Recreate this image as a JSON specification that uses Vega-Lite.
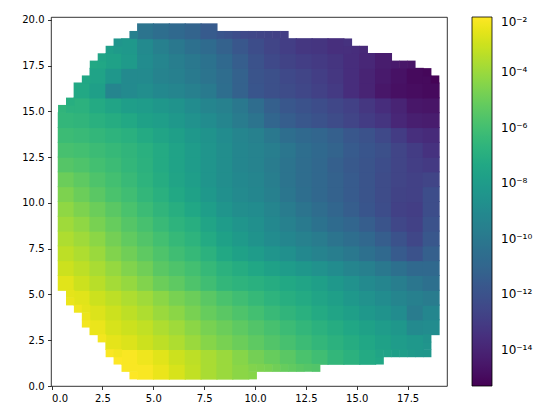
{"$schema":"https://vega.github.io/schema/vega-lite/v6.json","width":396,"height":369,"autosize":"none","padding":{"left":51,"top":17,"right":102,"bottom":34},"background":"white",
"config":{"font":"DejaVu Sans","view":{"stroke":"black","strokeWidth":0.8},"axis":{"grid":false,"domain":false,"tickColor":"black","tickSize":3.5,"tickWidth":0.8,"labelColor":"black","labelFontSize":10,"labelPadding":3.5,"title":null}},
"datasets":{"coarse":[
{"x":4.62,"y":0.78,"v":8e-3},{"x":5.4,"y":0.78,"v":4e-3},{"x":6.18,"y":0.78,"v":1.6e-3},{"x":6.96,"y":0.78,"v":6e-4},{"x":7.74,"y":0.78,"v":2e-4},{"x":8.52,"y":0.78,"v":1e-4},{"x":9.3,"y":0.78,"v":5e-5},
{"x":3.84,"y":1.59,"v":8e-3},{"x":4.62,"y":1.59,"v":5e-3},{"x":5.4,"y":1.59,"v":2.5e-3},{"x":6.18,"y":1.59,"v":1e-3},{"x":6.96,"y":1.59,"v":5e-4},{"x":7.74,"y":1.59,"v":2e-4},{"x":8.52,"y":1.59,"v":1e-4},{"x":9.3,"y":1.59,"v":4e-5},{"x":10.08,"y":1.59,"v":1.6e-5},{"x":10.86,"y":1.59,"v":8e-6},{"x":11.64,"y":1.59,"v":4e-6},{"x":12.42,"y":1.59,"v":1.6e-6},{"x":13.2,"y":1.59,"v":8e-7},{"x":13.98,"y":1.59,"v":3e-7},{"x":14.76,"y":1.59,"v":1.6e-7},{"x":15.54,"y":1.59,"v":6e-8},
{"x":3.06,"y":2.4,"v":3e-3},{"x":3.84,"y":2.4,"v":2e-3},{"x":4.62,"y":2.4,"v":1e-3},{"x":5.4,"y":2.4,"v":5e-4},{"x":6.18,"y":2.4,"v":2.5e-4},{"x":6.96,"y":2.4,"v":1e-4},{"x":7.74,"y":2.4,"v":4e-5},{"x":8.52,"y":2.4,"v":2e-5},{"x":9.3,"y":2.4,"v":1e-5},{"x":10.08,"y":2.4,"v":5e-6},{"x":10.86,"y":2.4,"v":2.5e-6},{"x":11.64,"y":2.4,"v":1.3e-6},{"x":12.42,"y":2.4,"v":6e-7},{"x":13.2,"y":2.4,"v":3e-7},{"x":13.98,"y":2.4,"v":1.6e-7},{"x":14.76,"y":2.4,"v":8e-8},{"x":15.54,"y":2.4,"v":4e-8},{"x":16.32,"y":2.4,"v":2e-8},{"x":17.1,"y":2.4,"v":1e-8},{"x":17.88,"y":2.4,"v":6e-9},
{"x":2.28,"y":3.21,"v":4e-3},{"x":3.06,"y":3.21,"v":1.6e-3},{"x":3.84,"y":3.21,"v":1e-3},{"x":4.62,"y":3.21,"v":6e-4},{"x":5.4,"y":3.21,"v":2.5e-4},{"x":6.18,"y":3.21,"v":1.3e-4},{"x":6.96,"y":3.21,"v":5e-5},{"x":7.74,"y":3.21,"v":2e-5},{"x":8.52,"y":3.21,"v":1e-5},{"x":9.3,"y":3.21,"v":5e-6},{"x":10.08,"y":3.21,"v":2.5e-6},{"x":10.86,"y":3.21,"v":1.3e-6},{"x":11.64,"y":3.21,"v":6e-7},{"x":12.42,"y":3.21,"v":3e-7},{"x":13.2,"y":3.21,"v":1.6e-7},{"x":13.98,"y":3.21,"v":8e-8},{"x":14.76,"y":3.21,"v":4e-8},{"x":15.54,"y":3.21,"v":2e-8},{"x":16.32,"y":3.21,"v":1e-8},{"x":17.1,"y":3.21,"v":5e-9},{"x":17.88,"y":3.21,"v":1e-9},{"x":18.66,"y":3.21,"v":1.3e-9},
{"x":2.28,"y":4.02,"v":2e-3},{"x":3.06,"y":4.02,"v":1e-3},{"x":3.84,"y":4.02,"v":5e-4},{"x":4.62,"y":4.02,"v":2.5e-4},{"x":5.4,"y":4.02,"v":1e-4},{"x":6.18,"y":4.02,"v":5e-5},{"x":6.96,"y":4.02,"v":2e-5},{"x":7.74,"y":4.02,"v":8e-6},{"x":8.52,"y":4.02,"v":4e-6},{"x":9.3,"y":4.02,"v":2e-6},{"x":10.08,"y":4.02,"v":1e-6},{"x":10.86,"y":4.02,"v":5e-7},{"x":11.64,"y":4.02,"v":2.5e-7},{"x":12.42,"y":4.02,"v":1.3e-7},{"x":13.2,"y":4.02,"v":6e-8},{"x":13.98,"y":4.02,"v":3e-8},{"x":14.76,"y":4.02,"v":1.6e-8},{"x":15.54,"y":4.02,"v":6e-9},{"x":16.32,"y":4.02,"v":3e-9},{"x":17.1,"y":4.02,"v":1.3e-9},{"x":17.88,"y":4.02,"v":1.6e-10},{"x":18.66,"y":4.02,"v":6e-10},
{"x":1.5,"y":4.82,"v":2.5e-3},{"x":2.28,"y":4.82,"v":1e-3},{"x":3.06,"y":4.82,"v":5e-4},{"x":3.84,"y":4.82,"v":2.5e-4},{"x":4.62,"y":4.82,"v":1.3e-4},{"x":5.4,"y":4.82,"v":5e-5},{"x":6.18,"y":4.82,"v":2e-5},{"x":6.96,"y":4.82,"v":1e-5},{"x":7.74,"y":4.82,"v":4e-6},{"x":8.52,"y":4.82,"v":1.6e-6},{"x":9.3,"y":4.82,"v":8e-7},{"x":10.08,"y":4.82,"v":4e-7},{"x":10.86,"y":4.82,"v":2e-7},{"x":11.64,"y":4.82,"v":1e-7},{"x":12.42,"y":4.82,"v":6e-8},{"x":13.2,"y":4.82,"v":3e-8},{"x":13.98,"y":4.82,"v":1.6e-8},{"x":14.76,"y":4.82,"v":6e-9},{"x":15.54,"y":4.82,"v":2.5e-9},{"x":16.32,"y":4.82,"v":1.3e-9},{"x":17.1,"y":4.82,"v":5e-10},{"x":17.88,"y":4.82,"v":2.5e-10},{"x":18.66,"y":4.82,"v":1.6e-10},
{"x":0.72,"y":5.63,"v":2.5e-3},{"x":1.5,"y":5.63,"v":1e-3},{"x":2.28,"y":5.63,"v":4e-4},{"x":3.06,"y":5.63,"v":1.6e-4},{"x":3.84,"y":5.63,"v":8e-5},{"x":4.62,"y":5.63,"v":3e-5},{"x":5.4,"y":5.63,"v":1e-5},{"x":6.18,"y":5.63,"v":5e-6},{"x":6.96,"y":5.63,"v":2e-6},{"x":7.74,"y":5.63,"v":8e-7},{"x":8.52,"y":5.63,"v":3e-7},{"x":9.3,"y":5.63,"v":2e-7},{"x":10.08,"y":5.63,"v":1.3e-7},{"x":10.86,"y":5.63,"v":8e-8},{"x":11.64,"y":5.63,"v":5e-8},{"x":12.42,"y":5.63,"v":3e-8},{"x":13.2,"y":5.63,"v":1.6e-8},{"x":13.98,"y":5.63,"v":6e-9},{"x":14.76,"y":5.63,"v":2.5e-9},{"x":15.54,"y":5.63,"v":1e-9},{"x":16.32,"y":5.63,"v":5e-10},{"x":17.1,"y":5.63,"v":2e-10},{"x":17.88,"y":5.63,"v":8e-11},{"x":18.66,"y":5.63,"v":4e-11},
{"x":0.72,"y":6.44,"v":1e-3},{"x":1.5,"y":6.44,"v":5e-4},{"x":2.28,"y":6.44,"v":2e-4},{"x":3.06,"y":6.44,"v":8e-5},{"x":3.84,"y":6.44,"v":3e-5},{"x":4.62,"y":6.44,"v":1.3e-5},{"x":5.4,"y":6.44,"v":4e-6},{"x":6.18,"y":6.44,"v":2e-6},{"x":6.96,"y":6.44,"v":1e-6},{"x":7.74,"y":6.44,"v":4e-7},{"x":8.52,"y":6.44,"v":1.6e-7},{"x":9.3,"y":6.44,"v":8e-8},{"x":10.08,"y":6.44,"v":4e-8},{"x":10.86,"y":6.44,"v":2e-8},{"x":11.64,"y":6.44,"v":1e-8},{"x":12.42,"y":6.44,"v":5e-9},{"x":13.2,"y":6.44,"v":2.5e-9},{"x":13.98,"y":6.44,"v":1.3e-9},{"x":14.76,"y":6.44,"v":5e-10},{"x":15.54,"y":6.44,"v":2.5e-10},{"x":16.32,"y":6.44,"v":1e-10},{"x":17.1,"y":6.44,"v":4e-11},{"x":17.88,"y":6.44,"v":1.6e-11},{"x":18.66,"y":6.44,"v":1.6e-11},
{"x":0.72,"y":7.25,"v":5e-4},{"x":1.5,"y":7.25,"v":2.5e-4},{"x":2.28,"y":7.25,"v":1e-4},{"x":3.06,"y":7.25,"v":3e-5},{"x":3.84,"y":7.25,"v":1.3e-5},{"x":4.62,"y":7.25,"v":5e-6},{"x":5.4,"y":7.25,"v":2e-6},{"x":6.18,"y":7.25,"v":8e-7},{"x":6.96,"y":7.25,"v":4e-7},{"x":7.74,"y":7.25,"v":1.6e-7},{"x":8.52,"y":7.25,"v":5e-8},{"x":9.3,"y":7.25,"v":2e-8},{"x":10.08,"y":7.25,"v":1e-8},{"x":10.86,"y":7.25,"v":4e-9},{"x":11.64,"y":7.25,"v":2e-9},{"x":12.42,"y":7.25,"v":8e-10},{"x":13.2,"y":7.25,"v":4e-10},{"x":13.98,"y":7.25,"v":2e-10},{"x":14.76,"y":7.25,"v":1e-10},{"x":15.54,"y":7.25,"v":4e-11},{"x":16.32,"y":7.25,"v":1.6e-11},{"x":17.1,"y":7.25,"v":3e-12},{"x":17.88,"y":7.25,"v":1e-12},{"x":18.66,"y":7.25,"v":5e-12},
{"x":0.72,"y":8.06,"v":2.5e-4},{"x":1.5,"y":8.06,"v":1.3e-4},{"x":2.28,"y":8.06,"v":5e-5},{"x":3.06,"y":8.06,"v":1.6e-5},{"x":3.84,"y":8.06,"v":6e-6},{"x":4.62,"y":8.06,"v":2.5e-6},{"x":5.4,"y":8.06,"v":1e-6},{"x":6.18,"y":8.06,"v":4e-7},{"x":6.96,"y":8.06,"v":2e-7},{"x":7.74,"y":8.06,"v":6e-8},{"x":8.52,"y":8.06,"v":2e-8},{"x":9.3,"y":8.06,"v":8e-9},{"x":10.08,"y":8.06,"v":3e-9},{"x":10.86,"y":8.06,"v":1.3e-9},{"x":11.64,"y":8.06,"v":6e-10},{"x":12.42,"y":8.06,"v":3e-10},{"x":13.2,"y":8.06,"v":1.6e-10},{"x":13.98,"y":8.06,"v":6e-11},{"x":14.76,"y":8.06,"v":3e-11},{"x":15.54,"y":8.06,"v":1.3e-11},{"x":16.32,"y":8.06,"v":4e-12},{"x":17.1,"y":8.06,"v":1e-12},{"x":17.88,"y":8.06,"v":3e-13},{"x":18.66,"y":8.06,"v":2e-12},
{"x":0.72,"y":8.86,"v":1.3e-4},{"x":1.5,"y":8.86,"v":6e-5},{"x":2.28,"y":8.86,"v":2e-5},{"x":3.06,"y":8.86,"v":8e-6},{"x":3.84,"y":8.86,"v":3e-6},{"x":4.62,"y":8.86,"v":1.3e-6},{"x":5.4,"y":8.86,"v":5e-7},{"x":6.18,"y":8.86,"v":2e-7},{"x":6.96,"y":8.86,"v":1e-7},{"x":7.74,"y":8.86,"v":3e-8},{"x":8.52,"y":8.86,"v":1e-8},{"x":9.3,"y":8.86,"v":4e-9},{"x":10.08,"y":8.86,"v":2e-9},{"x":10.86,"y":8.86,"v":8e-10},{"x":11.64,"y":8.86,"v":3e-10},{"x":12.42,"y":8.86,"v":1.3e-10},{"x":13.2,"y":8.86,"v":5e-11},{"x":13.98,"y":8.86,"v":2e-11},{"x":14.76,"y":8.86,"v":1e-11},{"x":15.54,"y":8.86,"v":4e-12},{"x":16.32,"y":8.86,"v":1.3e-12},{"x":17.1,"y":8.86,"v":3e-13},{"x":17.88,"y":8.86,"v":1.6e-13},{"x":18.66,"y":8.86,"v":1e-12},
{"x":0.72,"y":9.67,"v":6e-5},{"x":1.5,"y":9.67,"v":2.5e-5},{"x":2.28,"y":9.67,"v":1e-5},{"x":3.06,"y":9.67,"v":4e-6},{"x":3.84,"y":9.67,"v":1.6e-6},{"x":4.62,"y":9.67,"v":6e-7},{"x":5.4,"y":9.67,"v":2.5e-7},{"x":6.18,"y":9.67,"v":1e-7},{"x":6.96,"y":9.67,"v":4e-8},{"x":7.74,"y":9.67,"v":1.3e-8},{"x":8.52,"y":9.67,"v":4e-9},{"x":9.3,"y":9.67,"v":1.6e-9},{"x":10.08,"y":9.67,"v":1.3e-9},{"x":10.86,"y":9.67,"v":5e-10},{"x":11.64,"y":9.67,"v":1.6e-10},{"x":12.42,"y":9.67,"v":6e-11},{"x":13.2,"y":9.67,"v":2.5e-11},{"x":13.98,"y":9.67,"v":1e-11},{"x":14.76,"y":9.67,"v":4e-12},{"x":15.54,"y":9.67,"v":1.6e-12},{"x":16.32,"y":9.67,"v":6e-13},{"x":17.1,"y":9.67,"v":1.6e-13},{"x":17.88,"y":9.67,"v":1.3e-13},{"x":18.66,"y":9.67,"v":6e-13},
{"x":0.72,"y":10.48,"v":2.5e-5},{"x":1.5,"y":10.48,"v":1e-5},{"x":2.28,"y":10.48,"v":4e-6},{"x":3.06,"y":10.48,"v":1.6e-6},{"x":3.84,"y":10.48,"v":8e-7},{"x":4.62,"y":10.48,"v":3e-7},{"x":5.4,"y":10.48,"v":1.3e-7},{"x":6.18,"y":10.48,"v":5e-8},{"x":6.96,"y":10.48,"v":2e-8},{"x":7.74,"y":10.48,"v":6e-9},{"x":8.52,"y":10.48,"v":2e-9},{"x":9.3,"y":10.48,"v":1e-9},{"x":10.08,"y":10.48,"v":6e-10},{"x":10.86,"y":10.48,"v":2.5e-10},{"x":11.64,"y":10.48,"v":8e-11},{"x":12.42,"y":10.48,"v":3e-11},{"x":13.2,"y":10.48,"v":1.3e-11},{"x":13.98,"y":10.48,"v":6e-12},{"x":14.76,"y":10.48,"v":3e-12},{"x":15.54,"y":10.48,"v":1.3e-12},{"x":16.32,"y":10.48,"v":5e-13},{"x":17.1,"y":10.48,"v":2e-13},{"x":17.88,"y":10.48,"v":1.6e-13},{"x":18.66,"y":10.48,"v":6e-13},
{"x":0.72,"y":11.29,"v":1e-5},{"x":1.5,"y":11.29,"v":5e-6},{"x":2.28,"y":11.29,"v":2e-6},{"x":3.06,"y":11.29,"v":1e-6},{"x":3.84,"y":11.29,"v":5e-7},{"x":4.62,"y":11.29,"v":2e-7},{"x":5.4,"y":11.29,"v":8e-8},{"x":6.18,"y":11.29,"v":3e-8},{"x":6.96,"y":11.29,"v":1.3e-8},{"x":7.74,"y":11.29,"v":4e-9},{"x":8.52,"y":11.29,"v":1.6e-9},{"x":9.3,"y":11.29,"v":8e-10},{"x":10.08,"y":11.29,"v":5e-10},{"x":10.86,"y":11.29,"v":2e-10},{"x":11.64,"y":11.29,"v":6e-11},{"x":12.42,"y":11.29,"v":2.5e-11},{"x":13.2,"y":11.29,"v":1.3e-11},{"x":13.98,"y":11.29,"v":6e-12},{"x":14.76,"y":11.29,"v":3e-12},{"x":15.54,"y":11.29,"v":1.3e-12},{"x":16.32,"y":11.29,"v":5e-13},{"x":17.1,"y":11.29,"v":2.5e-13},{"x":17.88,"y":11.29,"v":1.6e-13},{"x":18.66,"y":11.29,"v":2.5e-13},
{"x":0.72,"y":12.1,"v":3e-6},{"x":1.5,"y":12.1,"v":2e-6},{"x":2.28,"y":12.1,"v":1e-6},{"x":3.06,"y":12.1,"v":6e-7},{"x":3.84,"y":12.1,"v":3e-7},{"x":4.62,"y":12.1,"v":1.6e-7},{"x":5.4,"y":12.1,"v":6e-8},{"x":6.18,"y":12.1,"v":2.5e-8},{"x":6.96,"y":12.1,"v":1e-8},{"x":7.74,"y":12.1,"v":4e-9},{"x":8.52,"y":12.1,"v":1.6e-9},{"x":9.3,"y":12.1,"v":6e-10},{"x":10.08,"y":12.1,"v":4e-10},{"x":10.86,"y":12.1,"v":1.6e-10},{"x":11.64,"y":12.1,"v":6e-11},{"x":12.42,"y":12.1,"v":2.5e-11},{"x":13.2,"y":12.1,"v":1.3e-11},{"x":13.98,"y":12.1,"v":5e-12},{"x":14.76,"y":12.1,"v":2.5e-12},{"x":15.54,"y":12.1,"v":1.3e-12},{"x":16.32,"y":12.1,"v":6e-13},{"x":17.1,"y":12.1,"v":2.5e-13},{"x":17.88,"y":12.1,"v":1.3e-13},{"x":18.66,"y":12.1,"v":8e-14},
{"x":0.72,"y":12.9,"v":1.3e-6},{"x":1.5,"y":12.9,"v":1e-6},{"x":2.28,"y":12.9,"v":6e-7},{"x":3.06,"y":12.9,"v":4e-7},{"x":3.84,"y":12.9,"v":2.5e-7},{"x":4.62,"y":12.9,"v":1.3e-7},{"x":5.4,"y":12.9,"v":6e-8},{"x":6.18,"y":12.9,"v":2.5e-8},{"x":6.96,"y":12.9,"v":1e-8},{"x":7.74,"y":12.9,"v":4e-9},{"x":8.52,"y":12.9,"v":1.6e-9},{"x":9.3,"y":12.9,"v":6e-10},{"x":10.08,"y":12.9,"v":4e-10},{"x":10.86,"y":12.9,"v":2e-10},{"x":11.64,"y":12.9,"v":8e-11},{"x":12.42,"y":12.9,"v":3e-11},{"x":13.2,"y":12.9,"v":1.6e-11},{"x":13.98,"y":12.9,"v":8e-12},{"x":14.76,"y":12.9,"v":3e-12},{"x":15.54,"y":12.9,"v":1.6e-12},{"x":16.32,"y":12.9,"v":8e-13},{"x":17.1,"y":12.9,"v":2.5e-13},{"x":17.88,"y":12.9,"v":1e-13},{"x":18.66,"y":12.9,"v":4e-14},
{"x":0.72,"y":13.71,"v":6e-7},{"x":1.5,"y":13.71,"v":5e-7},{"x":2.28,"y":13.71,"v":3e-7},{"x":3.06,"y":13.71,"v":2e-7},{"x":3.84,"y":13.71,"v":1.3e-7},{"x":4.62,"y":13.71,"v":6e-8},{"x":5.4,"y":13.71,"v":3e-8},{"x":6.18,"y":13.71,"v":1.6e-8},{"x":6.96,"y":13.71,"v":6e-9},{"x":7.74,"y":13.71,"v":3e-9},{"x":8.52,"y":13.71,"v":1.3e-9},{"x":9.3,"y":13.71,"v":5e-10},{"x":10.08,"y":13.71,"v":3e-10},{"x":10.86,"y":13.71,"v":1e-10},{"x":11.64,"y":13.71,"v":3e-11},{"x":12.42,"y":13.71,"v":1.6e-11},{"x":13.2,"y":13.71,"v":1e-11},{"x":13.98,"y":13.71,"v":5e-12},{"x":14.76,"y":13.71,"v":2e-12},{"x":15.54,"y":13.71,"v":1e-12},{"x":16.32,"y":13.71,"v":4e-13},{"x":17.1,"y":13.71,"v":1e-13},{"x":17.88,"y":13.71,"v":3e-14},{"x":18.66,"y":13.71,"v":2e-14},
{"x":0.72,"y":14.52,"v":3e-7},{"x":1.5,"y":14.52,"v":2.5e-7},{"x":2.28,"y":14.52,"v":1.3e-7},{"x":3.06,"y":14.52,"v":8e-8},{"x":3.84,"y":14.52,"v":5e-8},{"x":4.62,"y":14.52,"v":2e-8},{"x":5.4,"y":14.52,"v":1.3e-8},{"x":6.18,"y":14.52,"v":6e-9},{"x":6.96,"y":14.52,"v":2.5e-9},{"x":7.74,"y":14.52,"v":1.3e-9},{"x":8.52,"y":14.52,"v":5e-10},{"x":9.3,"y":14.52,"v":1.6e-10},{"x":10.08,"y":14.52,"v":6e-11},{"x":10.86,"y":14.52,"v":1e-11},{"x":11.64,"y":14.52,"v":4e-12},{"x":12.42,"y":14.52,"v":2e-12},{"x":13.2,"y":14.52,"v":1e-12},{"x":13.98,"y":14.52,"v":5e-13},{"x":14.76,"y":14.52,"v":2.5e-13},{"x":15.54,"y":14.52,"v":1e-13},{"x":16.32,"y":14.52,"v":5e-14},{"x":17.1,"y":14.52,"v":1.3e-14},{"x":17.88,"y":14.52,"v":6e-15},{"x":18.66,"y":14.52,"v":5e-15},
{"x":1.5,"y":15.33,"v":1.6e-7},{"x":2.28,"y":15.33,"v":6e-8},{"x":3.06,"y":15.33,"v":3e-8},{"x":3.84,"y":15.33,"v":1.3e-8},{"x":4.62,"y":15.33,"v":1e-8},{"x":5.4,"y":15.33,"v":5e-9},{"x":6.18,"y":15.33,"v":3e-9},{"x":6.96,"y":15.33,"v":1.3e-9},{"x":7.74,"y":15.33,"v":5e-10},{"x":8.52,"y":15.33,"v":3e-10},{"x":9.3,"y":15.33,"v":1e-10},{"x":10.08,"y":15.33,"v":2.5e-11},{"x":10.86,"y":15.33,"v":5e-12},{"x":11.64,"y":15.33,"v":2e-12},{"x":12.42,"y":15.33,"v":1e-12},{"x":13.2,"y":15.33,"v":6e-13},{"x":13.98,"y":15.33,"v":3e-13},{"x":14.76,"y":15.33,"v":1.6e-13},{"x":15.54,"y":15.33,"v":6e-14},{"x":16.32,"y":15.33,"v":2.5e-14},{"x":17.1,"y":15.33,"v":1e-14},{"x":17.88,"y":15.33,"v":3e-15},{"x":18.66,"y":15.33,"v":2.5e-15},
{"x":1.5,"y":16.14,"v":5e-8},{"x":2.28,"y":16.14,"v":1.6e-8},{"x":3.06,"y":16.14,"v":5e-10},{"x":3.84,"y":16.14,"v":1e-9},{"x":4.62,"y":16.14,"v":1.6e-9},{"x":5.4,"y":16.14,"v":8e-10},{"x":6.18,"y":16.14,"v":5e-10},{"x":6.96,"y":16.14,"v":2.5e-10},{"x":7.74,"y":16.14,"v":1.3e-10},{"x":8.52,"y":16.14,"v":3e-11},{"x":9.3,"y":16.14,"v":6e-12},{"x":10.08,"y":16.14,"v":1.6e-12},{"x":10.86,"y":16.14,"v":8e-13},{"x":11.64,"y":16.14,"v":5e-13},{"x":12.42,"y":16.14,"v":3e-13},{"x":13.2,"y":16.14,"v":1.6e-13},{"x":13.98,"y":16.14,"v":8e-14},{"x":14.76,"y":16.14,"v":2.5e-14},{"x":15.54,"y":16.14,"v":1e-14},{"x":16.32,"y":16.14,"v":3e-15},{"x":17.1,"y":16.14,"v":1.6e-15},{"x":17.88,"y":16.14,"v":1.3e-15},{"x":18.66,"y":16.14,"v":1e-15},
{"x":2.28,"y":16.94,"v":2.5e-8},{"x":3.06,"y":16.94,"v":5e-9},{"x":3.84,"y":16.94,"v":1e-9},{"x":4.62,"y":16.94,"v":1e-9},{"x":5.4,"y":16.94,"v":4e-10},{"x":6.18,"y":16.94,"v":2.5e-10},{"x":6.96,"y":16.94,"v":1.3e-10},{"x":7.74,"y":16.94,"v":6e-11},{"x":8.52,"y":16.94,"v":2.5e-11},{"x":9.3,"y":16.94,"v":6e-12},{"x":10.08,"y":16.94,"v":1.3e-12},{"x":10.86,"y":16.94,"v":8e-13},{"x":11.64,"y":16.94,"v":4e-13},{"x":12.42,"y":16.94,"v":2.5e-13},{"x":13.2,"y":16.94,"v":1.3e-13},{"x":13.98,"y":16.94,"v":6e-14},{"x":14.76,"y":16.94,"v":2.5e-14},{"x":15.54,"y":16.94,"v":1e-14},{"x":16.32,"y":16.94,"v":4e-15},{"x":17.1,"y":16.94,"v":2e-15},{"x":17.88,"y":16.94,"v":1e-15},
{"x":3.06,"y":17.75,"v":2e-8},{"x":3.84,"y":17.75,"v":8e-9},{"x":4.62,"y":17.75,"v":1.3e-9},{"x":5.4,"y":17.75,"v":5e-10},{"x":6.18,"y":17.75,"v":2e-10},{"x":6.96,"y":17.75,"v":1e-10},{"x":7.74,"y":17.75,"v":5e-11},{"x":8.52,"y":17.75,"v":1.6e-11},{"x":9.3,"y":17.75,"v":4e-12},{"x":10.08,"y":17.75,"v":1e-12},{"x":10.86,"y":17.75,"v":4e-13},{"x":11.64,"y":17.75,"v":2e-13},{"x":12.42,"y":17.75,"v":1.3e-13},{"x":13.2,"y":17.75,"v":8e-14},{"x":13.98,"y":17.75,"v":5e-14},{"x":14.76,"y":17.75,"v":2.5e-14},{"x":15.54,"y":17.75,"v":1.3e-14},{"x":16.32,"y":17.75,"v":5e-15},
{"x":3.84,"y":18.56,"v":6e-9},{"x":4.62,"y":18.56,"v":1e-9},{"x":5.4,"y":18.56,"v":2.5e-10},{"x":6.18,"y":18.56,"v":1e-10},{"x":6.96,"y":18.56,"v":4e-11},{"x":7.74,"y":18.56,"v":2e-11},{"x":8.52,"y":18.56,"v":6e-12},{"x":9.3,"y":18.56,"v":2e-12},{"x":10.08,"y":18.56,"v":6e-13},{"x":10.86,"y":18.56,"v":2.5e-13},{"x":11.64,"y":18.56,"v":1.3e-13},{"x":12.42,"y":18.56,"v":6e-14},{"x":13.2,"y":18.56,"v":5e-14},{"x":13.98,"y":18.56,"v":3e-14},
{"x":4.62,"y":19.37,"v":6e-11},{"x":5.4,"y":19.37,"v":3e-11},{"x":6.18,"y":19.37,"v":1.6e-11},{"x":6.96,"y":19.37,"v":8e-12},{"x":7.74,"y":19.37,"v":3e-12}
],"fine":[
{"x":4.035,"y":0.58,"v":1e-2},{"x":9.885,"y":0.58,"v":4e-5},
{"x":3.645,"y":0.99,"v":8e-3},{"x":4.035,"y":0.99,"v":8e-3},{"x":9.885,"y":0.99,"v":3e-5},{"x":10.275,"y":0.99,"v":2.5e-5},{"x":10.665,"y":0.99,"v":2e-5},{"x":11.055,"y":0.99,"v":1.3e-5},{"x":11.445,"y":0.99,"v":8e-6},{"x":11.835,"y":0.99,"v":6e-6},{"x":12.225,"y":0.99,"v":4e-6},{"x":12.615,"y":0.99,"v":3e-6},{"x":13.005,"y":0.99,"v":2.5e-6},
{"x":3.255,"y":1.39,"v":1e-2},{"x":16.125,"y":1.39,"v":4e-8},
{"x":2.865,"y":1.79,"v":8e-3},{"x":3.255,"y":1.79,"v":6e-3},{"x":16.125,"y":1.79,"v":3e-8},{"x":16.515,"y":1.79,"v":2.5e-8},{"x":16.905,"y":1.79,"v":1.6e-8},{"x":17.295,"y":1.79,"v":1.3e-8},{"x":17.685,"y":1.79,"v":8e-9},{"x":18.075,"y":1.79,"v":6e-9},{"x":18.465,"y":1.79,"v":5e-9},
{"x":18.465,"y":2.2,"v":4e-9},{"x":2.475,"y":2.6,"v":6e-3},{"x":18.465,"y":2.6,"v":3e-9},
{"x":1.695,"y":3.41,"v":6e-3},{"x":1.695,"y":3.81,"v":4e-3},{"x":1.305,"y":4.22,"v":5e-3},{"x":1.695,"y":4.22,"v":3e-3},
{"x":0.915,"y":4.62,"v":4e-3},{"x":0.915,"y":5.03,"v":3e-3},
{"x":0.525,"y":15.13,"v":2.5e-7},{"x":0.915,"y":15.13,"v":1.6e-7},{"x":0.915,"y":15.53,"v":1e-7},
{"x":1.695,"y":16.74,"v":4e-8},{"x":18.465,"y":16.74,"v":1e-15},{"x":18.855,"y":16.74,"v":6e-16},{"x":18.465,"y":17.14,"v":8e-16},
{"x":2.085,"y":17.55,"v":5e-8},{"x":2.475,"y":17.55,"v":4e-8},{"x":16.905,"y":17.55,"v":4e-15},{"x":17.295,"y":17.55,"v":3e-15},{"x":17.685,"y":17.55,"v":2.5e-15},{"x":2.475,"y":17.95,"v":3e-8},
{"x":2.865,"y":18.36,"v":1.3e-8},{"x":3.255,"y":18.36,"v":8e-9},{"x":14.565,"y":18.36,"v":3e-14},{"x":14.955,"y":18.36,"v":2.5e-14},{"x":15.345,"y":18.36,"v":1.6e-14},{"x":3.255,"y":18.76,"v":4e-9},{"x":14.565,"y":18.76,"v":4e-14},
{"x":4.035,"y":19.17,"v":2.5e-10},{"x":8.325,"y":19.17,"v":1.6e-12},{"x":8.715,"y":19.17,"v":1e-12},{"x":9.105,"y":19.17,"v":6e-13},{"x":9.495,"y":19.17,"v":4e-13},{"x":9.885,"y":19.17,"v":3e-13},{"x":10.275,"y":19.17,"v":2.5e-13},{"x":10.665,"y":19.17,"v":2e-13},{"x":11.055,"y":19.17,"v":1.6e-13},{"x":11.445,"y":19.17,"v":1.3e-13}
]},
"encoding":{
"x":{"field":"x","type":"quantitative","scale":{"domain":[-0.03,19.44],"nice":false,"zero":false},"axis":{"values":[0,2.5,5,7.5,10,12.5,15,17.5],"format":".1f"}},
"y":{"field":"y","type":"quantitative","scale":{"domain":[0,20.15],"nice":false,"zero":false},"axis":{"values":[0,2.5,5,7.5,10,12.5,15,17.5,20],"format":".1f"}},
"color":{"field":"v","type":"quantitative","scale":{"type":"log","domain":[5e-16,1e-2],"scheme":"viridis"},"legend":{"orient":"none","legendX":421,"legendY":0,"title":null,"gradientLength":369,"gradientThickness":20,"gradientStrokeColor":"black","gradientStrokeWidth":0.8,"values":[1e-14,1e-12,1e-10,1e-8,1e-6,1e-4,1e-2],"labelFontSize":12,"labelColor":"black","labelOffset":9,"labelOverlap":false,"labelExpr":"{'-2':'10⁻²','-4':'10⁻⁴','-6':'10⁻⁶','-8':'10⁻⁸','-10':'10⁻¹⁰','-12':'10⁻¹²','-14':'10⁻¹⁴'}[''+round(log(datum.value)/LN10)]"}}
},
"layer":[
{"data":{"name":"coarse"},"mark":{"type":"rect","width":17,"height":15.9}},
{"data":{"name":"fine"},"mark":{"type":"rect","width":8.5,"height":8}}
]}
